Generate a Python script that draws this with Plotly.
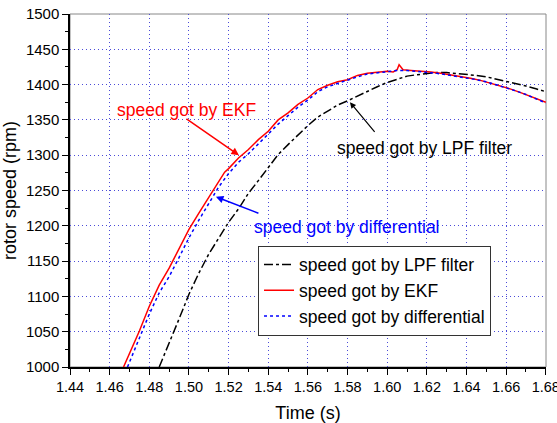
import plotly.graph_objects as go

# EKF estimate
t_ekf = [1.467, 1.470, 1.475, 1.480, 1.485, 1.490, 1.495, 1.500, 1.505, 1.510, 1.515, 1.518,
         1.520, 1.525, 1.530, 1.535, 1.540, 1.545, 1.550, 1.555, 1.560, 1.565, 1.570, 1.575,
         1.580, 1.585, 1.590, 1.595, 1.600, 1.603, 1.605, 1.606, 1.608, 1.612, 1.618, 1.622,
         1.627, 1.632, 1.637, 1.642, 1.647, 1.652, 1.657, 1.662, 1.667, 1.672, 1.676, 1.680]
rpm_ekf = [1000, 1019, 1051, 1086, 1116, 1140, 1167, 1195, 1218, 1241, 1262, 1276,
           1281, 1296, 1308, 1322, 1334, 1350, 1360, 1372, 1381, 1393, 1399, 1404,
           1407, 1413, 1416, 1417, 1419, 1418, 1421, 1428, 1421, 1420, 1419, 1418,
           1416, 1414, 1411, 1409, 1406, 1402, 1399, 1394, 1389, 1384, 1379, 1375]

# Differential estimate
t_dif = [1.469, 1.475, 1.480, 1.485, 1.490, 1.495, 1.500, 1.505, 1.510, 1.515, 1.520, 1.525,
         1.530, 1.535, 1.540, 1.545, 1.550, 1.555, 1.560, 1.565, 1.570, 1.575, 1.580, 1.585,
         1.590, 1.595, 1.600, 1.605, 1.610, 1.615, 1.620, 1.625, 1.630, 1.635, 1.640, 1.645,
         1.650, 1.655, 1.660, 1.665, 1.670, 1.675, 1.680]
rpm_dif = [1000, 1040, 1075, 1105, 1128, 1155, 1183, 1208, 1232, 1255, 1274, 1290,
           1302, 1316, 1329, 1344, 1356, 1368, 1378, 1390, 1397, 1402, 1406, 1411,
           1415, 1417, 1419, 1420, 1420, 1419, 1418, 1416, 1414, 1412, 1410, 1407,
           1404, 1400, 1396, 1391, 1386, 1380, 1374]

# LPF filter estimate
t_lpf = [1.485, 1.490, 1.495, 1.500, 1.505, 1.510, 1.515, 1.520, 1.525, 1.530, 1.535, 1.540,
         1.545, 1.550, 1.555, 1.560, 1.565, 1.570, 1.575, 1.580, 1.585, 1.590, 1.595, 1.600,
         1.605, 1.610, 1.615, 1.620, 1.625, 1.630, 1.635, 1.640, 1.645, 1.650, 1.655, 1.660,
         1.665, 1.670, 1.675, 1.680]
rpm_lpf = [1000, 1033, 1068, 1103, 1133, 1160, 1183, 1205, 1224, 1246, 1264, 1283,
           1301, 1315, 1329, 1342, 1354, 1363, 1371, 1377, 1384, 1391, 1397, 1403,
           1408, 1412, 1414, 1416, 1417, 1417, 1416, 1415, 1413, 1411, 1408, 1405,
           1401, 1398, 1394, 1390]

FONT = "Liberation Sans, Arial, sans-serif"

fig = go.Figure()
fig.add_trace(go.Scatter(x=t_lpf, y=rpm_lpf, mode="lines", name="speed got by LPF filter",
                         line=dict(color="black", width=1.5, dash="dashdot")))
fig.add_trace(go.Scatter(x=t_ekf, y=rpm_ekf, mode="lines", name="speed got by EKF",
                         line=dict(color="#ff0000", width=1.5)))
fig.add_trace(go.Scatter(x=t_dif, y=rpm_dif, mode="lines", name="speed got by differential",
                         line=dict(color="#0000ff", width=1.5, dash="dot")))

ann_font = dict(family=FONT, size=17.5)
annotations = [
    dict(x=1.499, y=1364, text="speed got by EKF", showarrow=False, font=dict(ann_font, color="#ff0000")),
    dict(x=1.5252, y=1300, ax=1.498, ay=1353, axref="x", ayref="y", text="", showarrow=True,
         arrowhead=2, arrowsize=1, arrowwidth=1.5, arrowcolor="#ff0000"),
    dict(x=1.5799, y=1198, text="speed got by differential", showarrow=False, font=dict(ann_font, color="#0000ff")),
    dict(x=1.5136, y=1241, ax=1.5358, ay=1217, axref="x", ayref="y", text="", showarrow=True,
         arrowhead=2, arrowsize=1, arrowwidth=1.5, arrowcolor="#0000ff"),
    dict(x=1.619, y=1310, text="speed got by LPF filter", showarrow=False, font=dict(ann_font, color="black")),
    dict(x=1.5812, y=1375, ax=1.5943, ay=1331, axref="x", ayref="y", text="", showarrow=True,
         arrowhead=2, arrowsize=1, arrowwidth=1.2, arrowcolor="black"),
]

grid_color = "#4b4bd8"
grid_dash = "1px,3px"
fig.update_layout(
    width=557, height=423,
    margin=dict(l=70, r=11, t=14, b=56, autoexpand=False),
    paper_bgcolor="white", plot_bgcolor="white",
    font=dict(family=FONT, color="black"),
    showlegend=True,
    legend=dict(x=0.395, y=0.2167, xanchor="left", yanchor="middle",
                bgcolor="white", bordercolor="#333", borderwidth=1,
                font=dict(family=FONT, size=17.5), tracegroupgap=0),
    annotations=annotations,
    shapes=[dict(type="rect", xref="paper", yref="paper", x0=0, x1=1, y0=0, y1=1,
                 line=dict(color="#888888", width=1), layer="below")],
    xaxis=dict(range=[1.44, 1.6801], dtick=0.02, tick0=1.44, tickformat=".2f",
               showline=True, linecolor="black", linewidth=1.5, automargin=False,
               ticklabeloverflow="allow",
               ticks="outside", ticklen=6, tickwidth=1.2, tickcolor="black",
               minor=dict(dtick=0.01, ticks="outside", ticklen=3, tickcolor="black", showgrid=False),
               showgrid=True, gridcolor=grid_color, griddash=grid_dash, gridwidth=1,
               zeroline=False, tickfont=dict(size=14.5),
               title=dict(text="Time (s)", font=dict(size=18), standoff=12)),
    yaxis=dict(range=[1000, 1500.01], dtick=50, tick0=1000,
               showline=True, linecolor="black", linewidth=1.5, automargin=False,
               ticklabeloverflow="allow",
               ticks="outside", ticklen=6, tickwidth=1.2, tickcolor="black",
               minor=dict(dtick=25, ticks="outside", ticklen=3, tickcolor="black", showgrid=False),
               showgrid=True, gridcolor=grid_color, griddash=grid_dash, gridwidth=1,
               zeroline=False, tickfont=dict(size=15),
               title=dict(text="rotor speed (rpm)", font=dict(size=18), standoff=8)),
)

# remove the default 8px page margin so the figure fills the 557x423 window exactly
fig.write_html("out.html", config={"displayModeBar": False},
               post_script="document.body.style.margin='0';")
